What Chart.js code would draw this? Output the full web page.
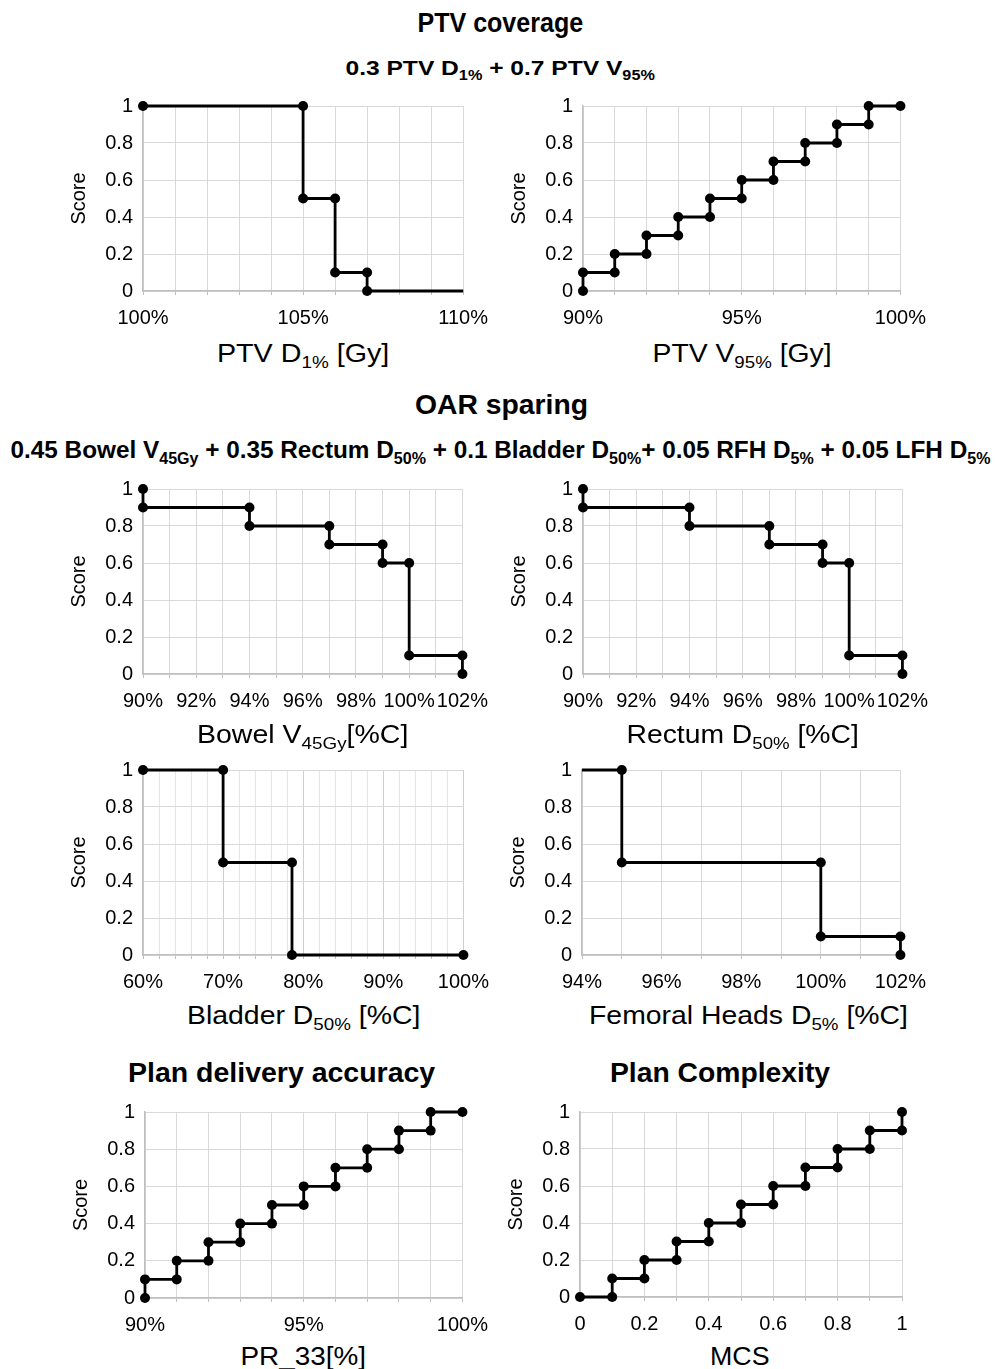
<!DOCTYPE html>
<html><head><meta charset="utf-8">
<script src="https://cdn.jsdelivr.net/npm/chart.js@4.4.0/dist/chart.umd.min.js"></script>
<style>
body{margin:0;background:#fff;}
#page{position:relative;width:995px;height:1369px;overflow:hidden;font-family:"Liberation Sans",Arial,sans-serif;color:#000;background:#fff;}
canvas{position:absolute;}
.t{position:absolute;white-space:nowrap;transform-origin:center center;line-height:1.15;}
.b{font-weight:bold;font-family:"Liberation Sans Narrow","Arial Narrow","Liberation Sans",Arial,sans-serif;}
.t sub{font-size:0.66em;vertical-align:-0.35em;line-height:0;}
</style>
</head><body>
<div id="page">
<canvas id="c1"></canvas><canvas id="c2"></canvas>
<canvas id="c3"></canvas><canvas id="c4"></canvas>
<canvas id="c5"></canvas><canvas id="c6"></canvas>
<canvas id="c7"></canvas><canvas id="c8"></canvas>
<div class="t b" id="h1" style="font-size:27px">PTV coverage</div>
<div class="t b" id="h2" style="font-size:21px">0.3 PTV D<sub>1%</sub> + 0.7 PTV V<sub>95%</sub></div>
<div class="t b" id="h3" style="font-size:27px">OAR sparing</div>
<div class="t b" id="h4" style="font-size:24px">0.45 Bowel V<sub>45Gy</sub> + 0.35 Rectum D<sub>50%</sub> + 0.1 Bladder D<sub>50%</sub>+ 0.05 RFH D<sub>5%</sub> + 0.05 LFH D<sub>5%</sub></div>
<div class="t b" id="h5" style="font-size:27px">Plan delivery accuracy</div>
<div class="t b" id="h6" style="font-size:27px">Plan Complexity</div>
<div class="t" id="x1" style="font-size:25px">PTV D<sub>1%</sub> [Gy]</div>
<div class="t" id="x2" style="font-size:25px">PTV V<sub>95%</sub> [Gy]</div>
<div class="t" id="x3" style="font-size:25px">Bowel V<sub>45Gy</sub>[%C]</div>
<div class="t" id="x4" style="font-size:25px">Rectum D<sub>50%</sub> [%C]</div>
<div class="t" id="x5" style="font-size:25px">Bladder D<sub>50%</sub> [%C]</div>
<div class="t" id="x6" style="font-size:25px">Femoral Heads D<sub>5%</sub> [%C]</div>
<div class="t" id="x7" style="font-size:25px">PR_33[%]</div>
<div class="t" id="x8" style="font-size:25px">MCS</div>
</div>
<script>
// ---- data ----
const ptvD1X = [100,105,105,106,106,107,107,110];
const ptvD1Y = [1,1,0.5,0.5,0.1,0.1,0,0];
const ptvV95X = [90,90,91,91,92,92,93,93,94,94,95,95,96,96,97,97,98,98,99,99,100];
const ptvV95Y = [0,0.1,0.1,0.2,0.2,0.3,0.3,0.4,0.4,0.5,0.5,0.6,0.6,0.7,0.7,0.8,0.8,0.9,0.9,1,1];
const bowelX = [90,90,94,94,97,97,99,99,100,100,102,102];
const bowelY = [1,0.9,0.9,0.8,0.8,0.7,0.7,0.6,0.6,0.1,0.1,0];
const rectumX = [90,90,94,94,97,97,99,99,100,100,102,102];
const rectumY = [1,0.9,0.9,0.8,0.8,0.7,0.7,0.6,0.6,0.1,0.1,0];
const bladderX = [60,70,70,78.6,78.6,100];
const bladderY = [1,1,0.5,0.5,0,0];
const femoralX = [94,95,95,100,100,102,102];
const femoralY = [1,1,0.5,0.5,0.1,0.1,0];
const pr33X = [90,90,91,91,92,92,93,93,94,94,95,95,96,96,97,97,98,98,99,99,100];
const pr33Y = [0,0.1,0.1,0.2,0.2,0.3,0.3,0.4,0.4,0.5,0.5,0.6,0.6,0.7,0.7,0.8,0.8,0.9,0.9,1,1];
const mcsX = [0,0.1,0.1,0.2,0.2,0.3,0.3,0.4,0.4,0.5,0.5,0.6,0.6,0.7,0.7,0.8,0.8,0.9,0.9,1,1];
const mcsY = [0,0,0.1,0.1,0.2,0.2,0.3,0.3,0.4,0.4,0.5,0.5,0.6,0.6,0.7,0.7,0.8,0.8,0.9,0.9,1];
const yTicks = [0,0.2,0.4,0.6,0.8,1];
const yTitle = 'Score';

const FONT = '"Liberation Sans", Arial, sans-serif';
const Ya = 80, padTop = 14, padR = 32, Xh = 44;

function makeChart(id, rect, xs, ys, xs_opt, hideIdx) {
  const cv = document.getElementById(id);
  let w = rect.x1 - rect.x0 + Ya + padR, h = rect.y1 - rect.y0 + padTop + Xh;
  cv.width = w; cv.height = h;
  cv.style.width = w + 'px'; cv.style.height = h + 'px';
  const pts = xs.map((x, i) => ({x: x, y: ys[i]}));
  const radii = xs.map((x, i) => (hideIdx && hideIdx.includes(i)) ? 0 : 5);
  const chart = new Chart(cv.getContext('2d'), {
    type: 'scatter',
    data: {datasets: [{
      data: pts, showLine: true, tension: 0,
      borderColor: '#000', backgroundColor: '#000', borderWidth: 2.8,
      pointRadius: radii, pointHoverRadius: radii, pointBorderWidth: 0,
      clip: false
    }]},
    options: {
      responsive: false, maintainAspectRatio: false, animation: false,
      devicePixelRatio: 1,
      layout: {padding: {top: padTop, right: padR, left: 0, bottom: 0}},
      plugins: {legend: {display: false}, tooltip: {enabled: false}},
      events: [],
      scales: {
        x: {
          type: 'linear', min: xs_opt.min, max: xs_opt.max,
          afterBuildTicks: s => { s.ticks = xs_opt.grid.map(v => ({value: v})); },
          afterFit: s => { s.height = Xh; },
          ticks: {
            autoSkip: false, maxRotation: 0, minRotation: 0, padding: 11,
            color: '#000', font: {family: FONT, size: 20},
            callback: (v) => xs_opt.label(v)
          },
          grid: {
            color: xs_opt.gridColor || '#d9d9d9', lineWidth: 1,
            tickLength: 4, tickColor: '#bfbfbf'
          },
          border: {color: '#bfbfbf', width: 1.5}
        },
        y: {
          min: 0, max: 1,
          afterBuildTicks: s => { s.ticks = yTicks.map(v => ({value: v})); },
          afterFit: s => { s.width = Ya; },
          ticks: {
            padding: 10, color: '#000', font: {family: FONT, size: 20},
            callback: v => String(+v.toFixed(1))
          },
          grid: {color: '#d9d9d9', lineWidth: 1, drawTicks: false},
          border: {color: '#bfbfbf', width: 1.5},
          title: {display: true, text: yTitle, color: '#000',
                  font: {family: FONT, size: 20}, padding: {top: 4, bottom: 0}}
        }
      }
    }
  });
  // fit the plot area exactly onto the target rectangle
  let ca = chart.chartArea;
  w = Math.round(w + (rect.x1 - rect.x0) - (ca.right - ca.left));
  h = Math.round(h + (rect.y1 - rect.y0) - (ca.bottom - ca.top));
  chart.resize(w, h);
  cv.style.width = w + 'px'; cv.style.height = h + 'px';
  ca = chart.chartArea;
  cv.style.left = (rect.x0 - ca.left) + 'px';
  cv.style.top = (rect.y0 - ca.top) + 'px';
}
function range(a, b, s) { const r = []; for (let v = a; v <= b + 1e-9; v += s) r.push(+v.toFixed(4)); return r; }
const pct = v => Math.round(v) + '%';

makeChart('c1', {x0:143, x1:463, y0:106, y1:291}, ptvD1X, ptvD1Y,
  {min:100, max:110, grid: range(100,110,1), label: v => (Math.round(v) % 5 === 0 ? pct(v) : '')}, [7]);
makeChart('c2', {x0:583, x1:900, y0:106, y1:291}, ptvV95X, ptvV95Y,
  {min:90, max:100, grid: range(90,100,1), label: v => (Math.round(v) % 5 === 0 ? pct(v) : '')});
makeChart('c3', {x0:143, x1:462, y0:489, y1:674}, bowelX, bowelY,
  {min:90, max:102, grid: range(90,102,1), label: v => (Math.round(v) % 2 === 0 ? pct(v) : '')});
makeChart('c4', {x0:583, x1:902, y0:489, y1:674}, rectumX, rectumY,
  {min:90, max:102, grid: range(90,102,1), label: v => (Math.round(v) % 2 === 0 ? pct(v) : '')});
makeChart('c5', {x0:143, x1:463, y0:770, y1:955}, bladderX, bladderY,
  {min:60, max:100, grid: range(60,100,2), label: v => (Math.round(v) % 10 === 0 ? pct(v) : ''),
   gridColor: c => (c.tick && Math.round(c.tick.value) % 10 === 0) ? '#cfcfcf' : '#e6e6e6'});
makeChart('c6', {x0:582, x1:900, y0:770, y1:955}, femoralX, femoralY,
  {min:94, max:102, grid: range(94,102,1), label: v => (Math.round(v) % 2 === 0 ? pct(v) : '')}, [0]);
makeChart('c7', {x0:145, x1:462, y0:1112, y1:1298}, pr33X, pr33Y,
  {min:90, max:100, grid: range(90,100,1), label: v => (Math.round(v) % 5 === 0 ? pct(v) : '')});
makeChart('c8', {x0:580, x1:902, y0:1112, y1:1297}, mcsX, mcsY,
  {min:0, max:1, grid: range(0,1,0.1), label: v => (Math.round(v*10) % 2 === 0 ? String(+v.toFixed(1)) : '')});

function place(id, cx, cy, tw) {
  const el = document.getElementById(id);
  const w = el.offsetWidth, h = el.offsetHeight;
  el.style.left = (cx - w / 2) + 'px';
  el.style.top = (cy - h / 2) + 'px';
  if (tw) el.style.transform = 'scaleX(' + (tw / w) + ')';
}
place('h1', 500, 23, 166);
place('h2', 500, 68, 309);
place('h3', 501, 405, 173);
place('h4', 500, 450, 980);
place('h5', 281, 1073, 307);
place('h6', 720, 1073, 220);
place('x1', 303, 353, 172);
place('x2', 742, 353, 179);
place('x3', 302, 734, 211);
place('x4', 742, 734, 232);
place('x5', 303, 1015, 233);
place('x6', 748, 1015, 319);
place('x7', 303, 1356, 126);
place('x8', 740, 1356, 60);
</script>
</body></html>
